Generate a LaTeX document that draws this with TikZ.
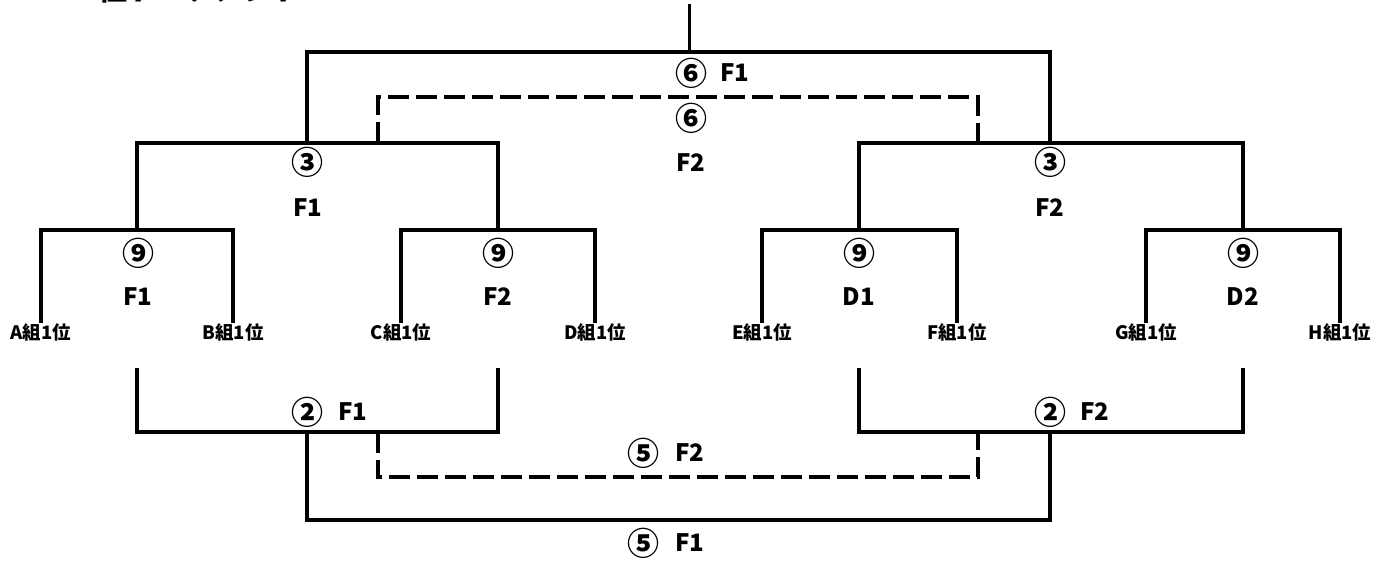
\documentclass[tikz,border=0pt]{standalone}
\usepackage{fontspec}
\newfontfamily\jp{Noto Sans CJK JP}
\usetikzlibrary{positioning,calc}

\begin{document}
\begin{tikzpicture}[x=1pt,y=-1pt,
  line/.style={line width=4pt},
  dline/.style={line width=4pt, dash pattern=on 21pt off 7pt},
  team/.style={font=\jp\fontsize{18.5}{18.5}\selectfont\bfseries, inner sep=0pt},
  lbl/.style={font=\jp\fontsize{24}{24}\selectfont\bfseries, inner sep=0pt},
  circ/.style={font=\jp\fontsize{32}{32}\selectfont\bfseries, inner sep=0pt}]
\useasboundingbox (0,0) rectangle (1387,562);

% Title (cut off at the top)
\node[anchor=base west, font=\jp\fontsize{29}{29}\selectfont\bfseries, inner sep=0pt] (title) at (52,1) {＜1位トーナメント＞};

% Teams
\node[team] (a) at (41,332) {A組1位};
\node[team] (b) at (233,332) {B組1位};
\node[team] (c) at (401,332) {C組1位};
\node[team] (d) at (595,332) {D組1位};
\node[team] (e) at (762,332) {E組1位};
\node[team] (f) at (957,332) {F組1位};
\node[team] (g) at (1146,332) {G組1位};
\node[team] (h) at (1340,332) {H組1位};

% Junctions
\coordinate (ab) at (137,230);
\coordinate (cd) at (498,230);
\coordinate (ef) at (859,230);
\coordinate (gh) at (1243,230);
\coordinate (abcd) at (307,143);
\coordinate (efgh) at (1050,143);
\coordinate (top) at (689,52);
\coordinate (stem) at (689,4);
\coordinate (dl) at (378,143);
\coordinate (dr) at (978,143);
\coordinate (dtop) at (689,97);

\coordinate (ab2) at (137,368);
\coordinate (cd2) at (498,368);
\coordinate (ef2) at (859,368);
\coordinate (gh2) at (1243,368);
\coordinate (lo1) at (307,432);
\coordinate (lo2) at (1050,432);
\coordinate (bot) at (689,520);
\coordinate (dl2) at (378,432);
\coordinate (dr2) at (978,432);
\coordinate (dbot) at (689,477);

% Upper bracket
\draw[line] (a.north) |- (ab) -| (b.north);
\draw[line] (c.north) |- (cd) -| (d.north);
\draw[line] (e.north) |- (ef) -| (f.north);
\draw[line] (g.north) |- (gh) -| (h.north);
\draw[line] (ab) |- (abcd) -| (cd);
\draw[line] (ef) |- (efgh) -| (gh);
\draw[line] (abcd) |- (top) -| (efgh);
\draw[line width=3pt] (top) -- (stem);
\draw[dline] (dl) |- (dtop) -| (dr);

% Lower bracket
\draw[line] (ab2) |- (lo1) -| (cd2);
\draw[line] (ef2) |- (lo2) -| (gh2);
\draw[line] (lo1) |- (bot) -| (lo2);
\draw[dline] (dl2) |- (dbot) -| (dr2);

% Match labels
\node[circ] (m6a) at (691,73) {⑥};
\node[lbl] (m6af) at (735,73) {F1};
\node[circ] (m6b) at (691,118) {⑥};
\node[lbl] (m6bf) at (691,163) {F2};
\node[circ] (m3a) at (307,162) {③};
\node[lbl] (m3af) at (308,208) {F1};
\node[circ] (m3b) at (1050,162) {③};
\node[lbl] (m3bf) at (1050,208) {F2};
\node[circ] (m9a) at (138,253) {⑨};
\node[lbl] (m9af) at (138,297) {F1};
\node[circ] (m9b) at (498,253) {⑨};
\node[lbl] (m9bf) at (498,297) {F2};
\node[circ] (m9c) at (859,253) {⑨};
\node[lbl] (m9cf) at (859,297) {D1};
\node[circ] (m9d) at (1243,253) {⑨};
\node[lbl] (m9df) at (1243,297) {D2};
\node[circ] (m2a) at (307,412) {②};
\node[lbl] (m2af) at (353,412) {F1};
\node[circ] (m2b) at (1050,412) {②};
\node[lbl] (m2bf) at (1095,412) {F2};
\node[circ] (m5a) at (643,453) {⑤};
\node[lbl] (m5af) at (690,453) {F2};
\node[circ] (m5b) at (643,543) {⑤};
\node[lbl] (m5bf) at (690,543) {F1};

\end{tikzpicture}
\end{document}
